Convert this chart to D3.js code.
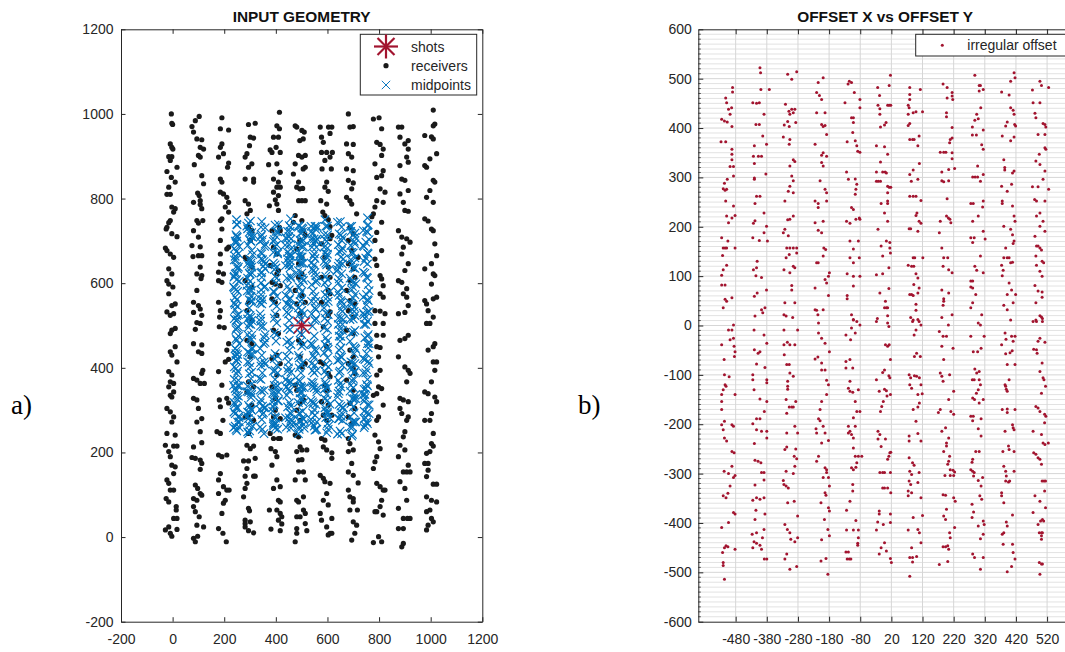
<!DOCTYPE html>
<html><head><meta charset="utf-8">
<script src="https://cdn.jsdelivr.net/npm/d3@7"></script>
<style>
body{margin:0;background:#fff}
svg{display:block}
text{font-family:Arial,"Liberation Sans",Helvetica,sans-serif}
text.serif{font-family:"Liberation Serif","Times New Roman",serif}
</style>
</head><body>
<svg id="chart" width="1065" height="652"></svg>
<script>
// ---------------- DATA ----------------
const shots = [[500, 500]];
// receiver positions [x, y] read from panel a)
const receivers = [
[-5,1000],[-3,978],[0,975],[-9,929],[-3,921],[1,917],[-15,899],[-3,899],[-9,890],[17,874],[-22,864],[-5,850],[10,839],[-15,827],[-22,810],[-9,810],[-3,780],[10,776],[4,768],[-9,748],[-15,743],[-22,732],[-25,728],[-3,717],[17,710],[-28,683],[-22,677],[-9,669],[4,661],[-15,634],[-3,622],[-22,606],[-15,598],[1,591],[-15,575],[10,551],[-3,547],[-22,532],[-9,524],[4,528],
[10,493],[-3,489],[-9,481],[10,450],[-9,438],[-3,430],[17,414],[-15,391],[-3,383],[-9,367],[4,363],[-15,355],[4,343],[-9,335],[-3,331],[-22,304],[-9,296],[4,284],[-3,272],[-22,245],[10,241],[-28,217],[4,215],[17,215],[-15,202],[-9,190],[10,166],[-3,170],[4,150],[-22,135],[-15,127],[-9,111],[4,111],[-25,91],[-15,83],[14,72],[14,64],[4,44],[17,44],[-15,24],[17,18],[-28,17],[-3,2],[-9,9],
[75,970],[88,984],[103,994],[81,957],[94,941],[113,939],[107,921],[120,917],[100,902],[107,898],[84,880],[113,854],[120,835],[97,813],[103,807],[81,791],[107,795],[107,786],[113,776],[94,748],[100,742],[117,748],[81,724],[100,709],[75,689],[107,686],[100,665],[113,665],[79,663],[107,638],[94,622],[113,618],[110,611],[94,583],[81,555],[100,547],[107,539],[81,531],[113,524],[94,507],
[88,491],[107,505],[81,457],[113,454],[100,438],[113,434],[117,394],[113,387],[81,375],[94,371],[107,363],[123,363],[81,328],[94,324],[100,304],[113,280],[94,272],[107,249],[81,213],[113,223],[75,188],[88,186],[107,182],[113,174],[107,160],[88,123],[97,115],[107,103],[81,91],[94,87],[113,99],[81,72],[88,60],[103,48],[94,28],[120,24],[81,-3],[88,-11],[97,2],
[191,991],[185,965],[217,962],[191,929],[185,921],[197,906],[178,898],[217,884],[213,874],[185,846],[191,839],[185,815],[197,811],[210,803],[217,791],[204,780],[217,768],[191,752],[185,748],[191,728],[217,685],[210,681],[185,701],[185,669],[185,646],[178,626],[197,622],[178,606],[191,602],[178,555],[185,535],[182,520],
[181,497],[200,495],[217,457],[210,442],[217,420],[204,414],[178,391],[191,359],[181,324],[210,328],[217,317],[185,308],[195,276],[172,249],[185,245],[178,194],[191,190],[210,194],[185,150],[178,135],[197,119],[178,103],[210,111],[219,111],[197,80],[191,56],[204,87],[178,20],[195,9],[208,-11],
[294,975],[320,978],[301,945],[314,943],[298,925],[288,906],[281,898],[307,882],[294,874],[314,846],[281,846],[314,839],[281,795],[294,787],[301,772],[288,764],[294,732],[307,724],[301,701],[281,661],[288,658],[307,638],[281,606],[307,591],[294,555],[288,535],[307,512],
[288,465],[307,457],[301,426],[294,367],[314,355],[288,343],[307,312],[294,288],[281,284],[314,276],[294,245],[288,217],[301,209],[314,215],[275,180],[294,180],[320,186],[288,162],[281,144],[314,144],[320,144],[288,127],[281,115],[275,95],[294,68],[298,62],[281,40],[281,32],[301,36],[281,24],[294,15],[314,10],
[414,1004],[404,972],[414,965],[391,945],[410,945],[401,921],[378,915],[385,909],[417,909],[404,882],[372,880],[417,862],[391,846],[410,839],[404,827],[417,827],[391,815],[410,807],[398,797],[404,787],[410,772],[375,783],[385,724],[414,732],[417,724],[391,685],[404,669],[378,642],[410,630],[404,622],[385,602],[398,598],[417,594],[385,563],[398,555],[404,524],
[391,489],[410,481],[404,430],[385,422],[417,410],[404,383],[385,355],[398,328],[398,300],[391,284],[417,280],[378,245],[391,233],[410,233],[417,233],[381,209],[398,202],[404,190],[385,170],[404,135],[417,119],[391,115],[410,87],[417,83],[375,64],[404,64],[417,56],[423,48],[410,40],[423,31],[381,19],[417,15],
[475,972],[481,969],[501,961],[510,957],[506,941],[493,937],[488,902],[501,898],[514,902],[475,882],[514,874],[506,870],[468,858],[488,839],[481,827],[493,823],[504,824],[488,795],[501,795],[514,795],[475,760],[501,748],[468,744],[506,724],[514,713],[493,701],[481,681],[501,661],[488,646],[501,622],[488,614],[475,583],[501,571],[514,555],[481,551],[494,528],
[488,465],[501,457],[494,426],[514,410],[501,402],[475,359],[481,347],[507,324],[494,316],[481,300],[494,276],[475,241],[488,237],[494,213],[501,206],[520,206],[481,202],[488,182],[501,183],[507,154],[488,154],[514,135],[475,135],[507,95],[481,87],[488,83],[507,64],[514,56],[481,48],[494,48],[514,32],[481,20],[520,15],[475,-11],[481,9],
[572,969],[604,969],[617,969],[610,954],[577,945],[584,933],[577,909],[597,909],[619,909],[610,898],[590,890],[579,870],[615,870],[597,839],[590,827],[603,817],[574,795],[597,787],[582,768],[590,760],[603,750],[610,734],[617,713],[610,705],[577,693],[590,661],[603,638],[577,614],[610,614],[603,583],[610,575],[577,555],[610,532],[603,524],
[584,497],[597,450],[572,414],[584,410],[603,387],[610,379],[590,359],[597,347],[577,320],[603,312],[584,288],[597,276],[617,288],[577,233],[590,229],[584,213],[597,206],[617,199],[617,186],[572,146],[584,139],[590,131],[610,127],[597,103],[584,87],[603,76],[572,56],[577,40],[617,44],[597,24],[610,9],[603,5],[617,9],
[681,1000],[700,970],[687,969],[674,929],[700,928],[681,906],[694,898],[674,870],[700,866],[681,843],[700,837],[694,823],[674,803],[687,795],[694,787],[713,764],[687,732],[700,717],[681,701],[694,677],[719,661],[681,646],[700,634],[706,614],[687,606],[674,583],[687,559],[706,551],[681,535],[700,520],
[674,489],[700,481],[687,442],[700,426],[681,410],[700,398],[706,387],[674,371],[700,347],[687,316],[706,304],[681,284],[694,268],[681,233],[687,221],[681,202],[700,206],[694,174],[681,154],[700,146],[719,128],[681,111],[687,95],[700,91],[700,83],[687,64],[716,64],[700,36],[713,28],[706,9],[694,-7],
[778,988],[800,991],[810,965],[791,933],[804,928],[816,917],[810,902],[784,882],[816,866],[810,854],[791,850],[804,823],[823,815],[791,795],[816,791],[784,780],[778,764],[772,757],[810,744],[791,720],[784,701],[810,677],[784,657],[791,642],[804,618],[810,610],[816,594],[804,575],[816,567],[784,535],[804,534],[823,528],
[784,505],[816,505],[791,477],[816,477],[791,450],[804,448],[798,426],[804,394],[791,383],[798,355],[810,351],[791,339],[778,335],[816,312],[798,284],[791,276],[784,241],[798,225],[804,209],[791,190],[784,178],[778,162],[791,127],[804,119],[816,111],[823,111],[810,87],[804,72],[791,60],[816,52],[784,60],[778,-13],[798,1],[810,-11],
[875,969],[888,969],[913,937],[900,929],[881,945],[913,917],[907,898],[881,878],[913,886],[888,846],[900,843],[881,811],[913,819],[894,791],[900,772],[913,770],[875,724],[888,709],[907,705],[920,697],[894,685],[888,669],[913,646],[900,630],[875,606],[888,602],[907,587],[894,575],[907,567],[913,547],[900,531],[875,528],
[881,465],[900,469],[913,477],[875,426],[900,402],[913,394],[920,387],[907,367],[881,328],[894,324],[913,320],[881,304],[888,292],[913,284],[907,276],[900,249],[894,237],[881,217],[900,206],[875,190],[913,170],[894,154],[907,154],[920,154],[881,131],[900,115],[875,68],[907,87],[894,44],[910,44],[920,44],[875,20],[894,20],[894,-15],[888,-23],
[1010,1009],[1016,976],[1010,972],[977,949],[1003,946],[1010,941],[1023,906],[997,894],[977,878],[984,874],[1010,843],[1016,839],[997,819],[984,803],[1010,791],[977,752],[990,747],[1003,728],[1010,724],[1016,693],[1023,665],[1003,646],[1010,622],[1016,618],[977,634],[1003,598],[1023,567],[1010,563],[977,559],[984,551],[990,535],[1010,520],
[984,505],[997,505],[1016,457],[1010,450],[990,442],[1010,414],[1023,414],[1016,394],[1003,367],[977,343],[990,339],[1016,331],[1023,320],[1003,292],[977,276],[997,276],[1010,245],[1003,221],[1010,215],[997,202],[984,198],[977,174],[990,174],[990,158],[984,143],[1010,125],[1023,125],[984,95],[1003,87],[1023,83],[984,60],[997,64],[1003,44],[1010,36],[990,28],[984,17]
];
// irregular offsets [offset x, offset y] read from panel b)
const offsets = [
[-512,461],[-509,451],[-490,482],[-490,473],[-525,418],[-516,414],[-507,412],[-498,428],[-503,438],[-493,441],[-492,403],[-527,372],[-512,372],[-492,357],[-492,347],[-492,336],[-498,322],[-487,322],[-487,303],[-507,296],[-520,277],[-514,274],[-509,276],[-516,288],[-512,252],[-487,242],[-509,222],[-482,223],[-492,218],[-503,208],[-525,178],[-505,171],[-520,157],[-514,157],[-509,157],[-482,157],[-522,142],[-509,122],[-525,102],[-520,113],[-525,82],[-514,82],[-514,53],[-509,49],[-492,56],[-520,36],
[-487,1],[-492,-9],[-503,-9],[-525,-39],[-498,-29],[-487,-26],[-485,-42],[-482,-53],[-484,-63],[-517,-69],[-516,-100],[-501,-104],[-514,-120],[-511,-123],[-520,-130],[-525,-140],[-525,-154],[-525,-170],[-482,-140],[-525,-201],[-520,-211],[-516,-194],[-492,-201],[-487,-204],[-516,-228],[-509,-234],[-492,-255],[-485,-258],[-492,-285],[-517,-295],[-503,-300],[-482,-304],[-487,-308],[-498,-325],[-520,-345],[-511,-349],[-505,-340],[-487,-379],[-482,-382],[-503,-399],[-525,-409],[-511,-446],[-505,-448],[-516,-450],[-482,-453],[-522,-460],[-520,-480],[-520,-486],[-516,-514],
[-402,522],[-400,512],[-425,451],[-413,450],[-404,451],[-399,478],[-372,478],[-415,407],[-404,407],[-389,428],[-393,384],[-420,364],[-381,367],[-423,343],[-407,343],[-397,343],[-420,328],[-420,299],[-420,296],[-383,307],[-413,262],[-402,262],[-418,247],[-389,228],[-381,201],[-418,212],[-423,207],[-389,188],[-425,178],[-404,172],[-378,171],[-413,117],[-423,113],[-415,101],[-397,97],[-411,130],[-420,59],[-381,72],[-411,66],[-397,32],[-393,26],[-418,19],[-386,36],
[-421,-9],[-389,-19],[-380,-36],[-420,-49],[-402,-53],[-408,-56],[-413,-78],[-386,-85],[-380,-110],[-380,-116],[-425,-100],[-425,-110],[-421,-130],[-402,-149],[-380,-154],[-388,-174],[-413,-189],[-402,-189],[-425,-199],[-397,-214],[-380,-214],[-413,-211],[-380,-228],[-420,-239],[-418,-273],[-408,-275],[-399,-278],[-397,-298],[-389,-298],[-389,-313],[-418,-323],[-425,-354],[-413,-349],[-402,-352],[-389,-349],[-415,-374],[-386,-382],[-418,-393],[-389,-413],[-427,-423],[-413,-420],[-394,-430],[-421,-438],[-425,-450],[-413,-441],[-402,-445],[-397,-453],[-388,-473],[-380,-473],
[-313,509],[-300,499],[-284,514],[-320,448],[-309,434],[-300,438],[-290,438],[-306,428],[-295,431],[-324,406],[-313,413],[-287,411],[-308,403],[-306,377],[-308,367],[-327,382],[-295,336],[-290,332],[-306,323],[-300,303],[-295,293],[-311,272],[-295,269],[-306,282],[-322,252],[-306,215],[-313,214],[-322,195],[-295,222],[-327,188],[-311,182],[-316,157],[-306,157],[-295,157],[-284,157],[-318,137],[-308,144],[-284,147],[-295,120],[-290,117],[-306,107],[-325,113],[-300,81],[-300,72],[-322,46],[-290,46],[-325,22],[-318,19],[-297,16],
[-325,-9],[-281,-9],[-314,-34],[-306,-39],[-325,-39],[-290,-39],[-324,-59],[-316,-79],[-308,-79],[-313,-113],[-313,-123],[-313,-129],[-306,-96],[-295,-103],[-318,-150],[-287,-154],[-295,-165],[-308,-165],[-300,-165],[-316,-178],[-290,-204],[-316,-218],[-281,-218],[-316,-246],[-322,-251],[-292,-265],[-284,-270],[-287,-250],[-290,-285],[-318,-295],[-295,-300],[-327,-314],[-325,-322],[-318,-325],[-311,-329],[-313,-359],[-292,-356],[-281,-386],[-322,-403],[-314,-413],[-306,-420],[-303,-433],[-290,-438],[-281,-430],[-316,-463],[-322,-473],[-306,-494],[-284,-488],
[-215,492],[-199,502],[-220,472],[-211,466],[-204,458],[-220,431],[-193,431],[-204,407],[-193,405],[-199,403],[-188,387],[-225,367],[-199,350],[-204,345],[-188,343],[-204,330],[-199,323],[-209,293],[-193,276],[-188,269],[-215,247],[-215,239],[-225,252],[-188,252],[-225,208],[-215,193],[-204,188],[-199,211],[-197,157],[-191,154],[-220,127],[-215,127],[-199,141],[-179,107],[-182,100],[-193,93],[-188,86],[-225,76],[-182,61],[-225,32],[-220,31],[-199,32],[-216,22],
[-214,5],[-214,-15],[-204,-26],[-193,-36],[-179,-53],[-225,-68],[-216,-64],[-204,-76],[-204,-90],[-193,-90],[-188,-111],[-182,-120],[-188,-140],[-204,-154],[-209,-170],[-214,-189],[-209,-193],[-199,-204],[-222,-209],[-220,-218],[-193,-218],[-182,-233],[-204,-238],[-214,-265],[-220,-275],[-193,-288],[-188,-292],[-188,-298],[-199,-308],[-182,-308],[-179,-325],[-193,-339],[-190,-344],[-206,-359],[-182,-369],[-179,-376],[-195,-393],[-184,-413],[-179,-426],[-204,-434],[-206,-477],[-190,-472],[-184,-504],
[-119,489],[-108,492],[-115,495],[-99,472],[-129,451],[-81,458],[-81,441],[-108,421],[-102,421],[-102,411],[-104,391],[-122,372],[-96,374],[-91,364],[-88,353],[-81,351],[-124,311],[-118,296],[-96,297],[-91,286],[-94,276],[-96,266],[-108,239],[-102,235],[-124,211],[-113,207],[-94,215],[-83,218],[-81,215],[-113,171],[-86,171],[-102,155],[-113,137],[-102,127],[-83,137],[-122,105],[-102,100],[-81,100],[-122,61],[-122,54],[-102,80],[-108,22],[-102,12],
[-102,11],[-91,8],[-81,1],[-108,-5],[-96,-15],[-126,-19],[-111,-29],[-126,-73],[-126,-86],[-113,-69],[-104,-86],[-118,-127],[-113,-133],[-104,-135],[-86,-130],[-113,-113],[-96,-154],[-91,-174],[-81,-174],[-102,-187],[-96,-204],[-118,-204],[-113,-214],[-108,-221],[-102,-228],[-118,-218],[-102,-248],[-96,-265],[-86,-265],[-75,-265],[-91,-278],[-94,-287],[-108,-288],[-102,-292],[-104,-322],[-104,-335],[-113,-356],[-124,-374],[-94,-395],[-124,-414],[-102,-414],[-86,-414],[-86,-430],[-88,-441],[-88,-445],[-126,-459],[-118,-459],[-122,-473],[-115,-473],[-110,-473],
[-24,482],[-18,466],[17,507],[13,486],[-23,446],[-17,439],[-17,428],[8,446],[13,446],[18,446],[-15,402],[3,411],[-2,406],[-28,364],[-2,362],[8,347],[-15,331],[-28,311],[0,311],[-8,311],[-28,292],[-22,292],[-15,292],[4,309],[8,282],[13,280],[18,280],[8,269],[8,252],[8,247],[-13,247],[-2,228],[8,211],[-23,195],[-13,161],[4,171],[15,168],[15,157],[17,147],[-8,141],[-28,103],[-8,105],[12,117],[-17,66],[12,75],[1,49],[-2,36],[4,36],[8,36],[-25,14],[8,20],
[-28,8],[8,5],[12,-2],[1,-39],[8,-42],[13,-39],[17,-69],[-2,-90],[-8,-95],[12,-102],[-28,-110],[15,-106],[-19,-133],[-2,-129],[4,-132],[6,-143],[17,-140],[-6,-154],[-11,-164],[-15,-174],[-23,-214],[-17,-221],[-23,-230],[1,-230],[-13,-245],[12,-265],[15,-258],[18,-257],[8,-271],[-17,-298],[-8,-298],[-2,-298],[17,-298],[-8,-329],[-2,-329],[8,-329],[18,-339],[-19,-376],[-19,-382],[17,-382],[-24,-398],[-6,-403],[17,-399],[-28,-414],[-2,-440],[-13,-450],[-19,-463],[4,-457],[17,-472],[20,-480],
[79,482],[79,468],[113,478],[79,458],[74,446],[77,441],[74,428],[90,431],[99,433],[120,433],[79,409],[74,405],[79,377],[88,377],[93,377],[109,384],[105,364],[110,328],[90,315],[79,306],[84,292],[105,296],[79,262],[90,262],[99,262],[115,253],[102,228],[99,223],[109,211],[115,207],[77,196],[82,196],[105,191],[90,137],[95,137],[121,137],[74,122],[85,120],[92,120],[99,105],[105,96],[92,83],[109,76],[79,63],[85,63],[90,61],[105,66],[99,43],[99,31],[82,16],[90,11],[105,12],
[88,8],[109,8],[99,-9],[93,-19],[115,1],[101,-56],[94,-63],[113,-63],[77,-100],[82,-106],[94,-102],[101,-103],[110,-106],[79,-120],[85,-127],[115,-120],[105,-140],[119,-138],[90,-170],[105,-165],[110,-157],[99,-194],[77,-224],[77,-234],[105,-219],[115,-234],[77,-268],[88,-278],[93,-283],[79,-295],[85,-302],[109,-298],[77,-315],[82,-322],[105,-318],[74,-335],[85,-339],[74,-345],[115,-349],[90,-389],[120,-385],[74,-414],[105,-413],[110,-420],[115,-440],[85,-450],[79,-470],[88,-470],[101,-468],[88,-479],[79,-508],
[186,489],[199,482],[215,472],[215,465],[217,458],[199,461],[197,431],[197,423],[215,401],[209,377],[215,380],[207,370],[177,351],[188,351],[195,351],[215,350],[215,338],[204,316],[223,318],[182,311],[182,293],[188,291],[204,293],[199,257],[177,211],[197,222],[203,218],[208,215],[211,208],[174,188],[182,157],[188,137],[201,137],[186,120],[204,113],[215,107],[182,72],[188,54],[188,49],[204,66],[186,41],[182,16],[215,22],
[203,1],[174,-12],[186,-22],[197,-22],[182,-42],[218,-46],[188,-69],[177,-96],[182,-103],[186,-113],[207,-100],[220,-133],[204,-150],[177,-170],[171,-176],[211,-174],[220,-180],[194,-207],[182,-214],[204,-228],[197,-238],[197,-244],[188,-255],[207,-265],[204,-275],[201,-281],[209,-292],[218,-293],[223,-297],[209,-304],[220,-304],[192,-304],[186,-343],[194,-344],[220,-349],[225,-356],[197,-372],[188,-386],[194,-393],[223,-409],[207,-420],[209,-430],[186,-448],[194,-448],[201,-446],[204,-453],[174,-484],[201,-478],
[288,507],[302,486],[306,486],[302,475],[315,478],[294,428],[299,419],[307,441],[288,416],[280,402],[280,386],[293,386],[315,396],[310,366],[315,357],[297,323],[281,301],[289,301],[297,301],[306,292],[315,306],[315,252],[313,240],[275,247],[283,247],[299,222],[281,211],[275,178],[281,168],[286,178],[315,191],[321,175],[306,141],[288,120],[294,112],[315,107],[275,90],[281,90],[275,78],[281,76],[291,63],[281,46],[275,36],[310,22],
[299,5],[306,1],[275,-22],[318,-22],[283,-53],[297,-53],[308,-46],[288,-88],[294,-96],[302,-93],[280,-110],[286,-110],[302,-110],[306,-120],[299,-130],[293,-137],[281,-147],[287,-150],[315,-150],[302,-157],[275,-184],[283,-184],[281,-193],[308,-189],[299,-209],[308,-224],[291,-255],[302,-255],[281,-271],[279,-277],[275,-292],[281,-295],[286,-298],[284,-305],[313,-308],[299,-314],[308,-325],[304,-345],[310,-352],[279,-362],[284,-378],[279,-389],[315,-396],[318,-403],[299,-406],[306,-432],[315,-423],[281,-463],[287,-470],[315,-470],[306,-494],
[374,473],[403,495],[414,512],[417,502],[398,467],[387,404],[392,412],[403,441],[411,436],[414,428],[416,407],[419,404],[403,374],[376,384],[414,382],[381,336],[384,320],[384,315],[409,309],[414,313],[374,282],[392,272],[406,286],[376,252],[376,247],[409,242],[414,222],[417,211],[381,201],[403,195],[409,184],[414,171],[411,166],[387,157],[392,137],[398,137],[381,137],[374,122],[379,112],[376,101],[403,127],[409,128],[398,86],[406,72],[392,63],[419,63],[381,41],[411,46],[392,32],
[403,11],[374,-39],[385,-15],[388,-28],[406,-22],[417,-22],[411,-32],[401,-55],[408,-51],[387,-57],[392,-79],[417,-79],[385,-120],[387,-123],[389,-129],[398,-110],[376,-170],[392,-169],[392,-176],[417,-170],[392,-133],[385,-214],[409,-201],[411,-207],[414,-211],[396,-244],[398,-251],[378,-255],[414,-255],[381,-285],[387,-295],[389,-305],[387,-315],[396,-317],[400,-315],[414,-295],[374,-339],[374,-345],[381,-359],[409,-384],[389,-398],[392,-406],[376,-423],[381,-420],[379,-443],[409,-443],[411,-460],[417,-473],[406,-488],[392,-499],
[473,477],[497,495],[502,486],[525,482],[475,451],[481,430],[484,421],[497,451],[507,409],[513,407],[516,402],[491,387],[513,387],[513,360],[516,357],[495,347],[484,333],[497,326],[513,313],[507,296],[473,281],[491,281],[525,276],[480,255],[486,252],[513,252],[497,228],[486,222],[507,211],[497,201],[513,191],[481,181],[486,161],[491,161],[497,157],[502,153],[484,141],[504,130],[509,127],[486,122],[497,110],[504,100],[481,81],[491,70],[504,68],[504,57],[484,46],[497,20],[502,17],[505,14],[484,11],
[475,8],[486,8],[505,8],[497,-26],[491,-32],[513,-34],[477,-48],[486,-49],[488,-56],[504,-76],[497,-93],[507,-106],[510,-110],[515,-123],[502,-137],[484,-164],[491,-167],[497,-174],[512,-180],[516,-184],[512,-197],[475,-214],[502,-221],[507,-238],[513,-241],[524,-238],[477,-258],[484,-261],[491,-268],[497,-271],[502,-281],[504,-315],[510,-315],[515,-315],[512,-335],[481,-345],[497,-356],[515,-369],[475,-379],[491,-403],[499,-396],[505,-393],[509,-396],[495,-420],[502,-420],[505,-420],[502,-426],[502,-433],[495,-480],[502,-483],[505,-483],[497,-504]
];
const geoXTicks = [-200, 0, 200, 400, 600, 800, 1000, 1200];
const geoYTicks = [-200, 0, 200, 400, 600, 800, 1000, 1200];
const offXTicks = [-480, -380, -280, -180, -80, 20, 120, 220, 320, 420, 520];
const offYTicks = [-600, -500, -400, -300, -200, -100, 0, 100, 200, 300, 400, 500, 600];
const titles = ["INPUT GEOMETRY", "OFFSET X vs OFFSET Y"];
const legendGeo = ["shots", "receivers", "midpoints"];
const legendOff = ["irregular offset"];
const panelLabels = ["a)", "b)"];

// midpoints derived from the shot and each receiver
const midpoints = receivers.map(r => [(shots[0][0] + r[0]) / 2, (shots[0][1] + r[1]) / 2]);

// ---------------- DRAWING ----------------
const AX = "#262626";
const RED = "#A2142F", BLUE = "#0072BD";
const fmt = d => String(d);   // plain hyphen minus as in the original
const svg = d3.select("#chart");

function star(g, cx, cy, r, color, sw) {
  [0, 45, 90, 135].forEach(a => {
    const t = a * Math.PI / 180, dx = r * Math.cos(t), dy = r * Math.sin(t);
    g.append("line").attr("x1", cx - dx).attr("y1", cy - dy).attr("x2", cx + dx).attr("y2", cy + dy)
      .attr("stroke", color).attr("stroke-width", sw);
  });
}
function cross(g, cx, cy, r, color, sw) {
  g.append("path").attr("d", `M${cx - r},${cy - r}L${cx + r},${cy + r}M${cx - r},${cy + r}L${cx + r},${cy - r}`)
    .attr("stroke", color).attr("stroke-width", sw).attr("fill", "none");
}
function styleAxis(sel, fs) {
  sel.selectAll("path.domain").attr("stroke", AX).attr("stroke-width", 1);
  sel.selectAll(".tick line").attr("stroke", AX).attr("stroke-width", 1);
  sel.selectAll(".tick text").attr("fill", AX).style("font-size", fs + "px")
    .style("font-family", "Arial, 'Liberation Sans', Helvetica, sans-serif");
}

// ===== Panel a =====
const xA = d3.scaleLinear().domain([-200, 1200]).range([121, 482.3]);
const yA = d3.scaleLinear().domain([-200, 1200]).range([621.7, 29.3]);
const gA = svg.append("g");

const gStar = gA.append("g");
shots.forEach(s => star(gStar, xA(s[0]), yA(s[1]), 11.5, RED, 1.8));
gA.append("g").selectAll("circle").data(receivers).join("circle")
  .attr("cx", d => xA(d[0])).attr("cy", d => yA(d[1])).attr("r", 2.6).attr("fill", "#1a1a1a");
const gMid = gA.append("g");
midpoints.forEach(m => cross(gMid, xA(m[0]), yA(m[1]), 4.2, BLUE, 1.15));

styleAxis(gA.append("g").attr("transform", `translate(0,${yA(-200)})`)
  .call(d3.axisBottom(xA).tickValues(geoXTicks).tickSize(-4.5).tickSizeOuter(0).tickPadding(12).tickFormat(fmt)), 14);
styleAxis(gA.append("g").attr("transform", `translate(0,${yA(1200)})`)
  .call(d3.axisTop(xA).tickValues(geoXTicks).tickSize(-4.5).tickSizeOuter(0).tickFormat(() => "")), 14);
styleAxis(gA.append("g").attr("transform", `translate(${xA(-200)},0)`)
  .call(d3.axisLeft(yA).tickValues(geoYTicks).tickSize(-4.5).tickSizeOuter(0).tickPadding(7.5).tickFormat(fmt)), 14);
styleAxis(gA.append("g").attr("transform", `translate(${xA(1200)},0)`)
  .call(d3.axisRight(yA).tickValues(geoYTicks).tickSize(-4.5).tickSizeOuter(0).tickFormat(() => "")), 14);

gA.append("text").attr("x", (xA(-200) + xA(1200)) / 2).attr("y", 21.5).attr("text-anchor", "middle")
  .style("font-size", "15.4px").attr("font-weight", "bold").attr("fill", "#111").text(titles[0]);

const lgA = gA.append("g");
lgA.append("rect").attr("x", 360.3).attr("y", 34.3).attr("width", 116.4).attr("height", 60.7)
  .attr("fill", "#fff").attr("stroke", AX).attr("stroke-width", 1);
star(lgA, 386, 46.5, 12, RED, 2.2);
lgA.append("circle").attr("cx", 386).attr("cy", 65.7).attr("r", 2.6).attr("fill", "#1a1a1a");
cross(lgA, 386, 85, 4.2, BLUE, 0.95);
legendGeo.forEach((t, i) => lgA.append("text").attr("x", 411).attr("y", [46.7, 65.7, 85][i]).attr("dy", "0.35em")
  .style("font-size", "14px").attr("fill", AX).text(t));

svg.append("text").attr("class", "serif").attr("x", 11).attr("y", 414)
  .style("font-size", "27px").attr("fill", "#000").text(panelLabels[0]);

// ===== Panel b =====
const xB = d3.scaleLinear().domain([-600, 600]).range([698.3, 1072]);
const yB = d3.scaleLinear().domain([-600, 600]).range([621.7, 29.3]);
const gB = svg.append("g");

const minorY = d3.range(-590, 600, 10).filter(v => v % 100 !== 0);
gB.append("g").selectAll("line").data(minorY).join("line")
  .attr("x1", xB(-600)).attr("x2", xB(600)).attr("y1", d => yB(d)).attr("y2", d => yB(d))
  .attr("stroke", "#e2e2e2").attr("stroke-width", 1);
gB.append("g").selectAll("line").data(offYTicks.slice(1, -1)).join("line")
  .attr("x1", xB(-600)).attr("x2", xB(600)).attr("y1", d => yB(d)).attr("y2", d => yB(d))
  .attr("stroke", "#d6d6d6").attr("stroke-width", 1);
gB.append("g").selectAll("line").data(offXTicks).join("line")
  .attr("y1", yB(-600)).attr("y2", yB(600)).attr("x1", d => xB(d)).attr("x2", d => xB(d))
  .attr("stroke", "#d6d6d6").attr("stroke-width", 1);

gB.append("g").selectAll("line").data(minorY).join("line")
  .attr("x1", xB(-600)).attr("x2", xB(-600) + 2.5).attr("y1", d => yB(d)).attr("y2", d => yB(d))
  .attr("stroke", AX).attr("stroke-width", 0.8);

gB.append("g").selectAll("circle").data(offsets).join("circle")
  .attr("cx", d => xB(d[0])).attr("cy", d => yB(d[1])).attr("r", 1.5).attr("fill", RED);

styleAxis(gB.append("g").attr("transform", `translate(0,${yB(-600)})`)
  .call(d3.axisBottom(xB).tickValues(offXTicks).tickSize(-5).tickSizeOuter(0).tickPadding(12).tickFormat(fmt)), 14);
styleAxis(gB.append("g").attr("transform", `translate(0,${yB(600)})`)
  .call(d3.axisTop(xB).tickValues(offXTicks).tickSize(-5).tickSizeOuter(0).tickFormat(() => "")), 14);
styleAxis(gB.append("g").attr("transform", `translate(${xB(-600)},0)`)
  .call(d3.axisLeft(yB).tickValues(offYTicks).tickSize(-5).tickSizeOuter(0).tickPadding(6.5).tickFormat(fmt)), 14);
styleAxis(gB.append("g").attr("transform", `translate(${xB(600)},0)`)
  .call(d3.axisRight(yB).tickValues(offYTicks).tickSize(-5).tickSizeOuter(0).tickFormat(() => "")), 14);

gB.append("text").attr("x", (xB(-600) + xB(600)) / 2).attr("y", 21.5).attr("text-anchor", "middle")
  .style("font-size", "15.4px").attr("font-weight", "bold").attr("fill", "#111").text(titles[1]);

const lgB = gB.append("g");
lgB.append("rect").attr("x", 915.7).attr("y", 34.3).attr("width", 160).attr("height", 21.7)
  .attr("fill", "#fff").attr("stroke", AX).attr("stroke-width", 1);
lgB.append("circle").attr("cx", 942.3).attr("cy", 45.3).attr("r", 1.5).attr("fill", RED);
lgB.append("text").attr("x", 967.3).attr("y", 45.3).attr("dy", "0.35em").style("font-size", "14px")
  .attr("fill", AX).text(legendOff[0]);

svg.append("text").attr("class", "serif").attr("x", 578).attr("y", 414)
  .style("font-size", "27px").attr("fill", "#000").text(panelLabels[1]);
</script>
</body></html>
